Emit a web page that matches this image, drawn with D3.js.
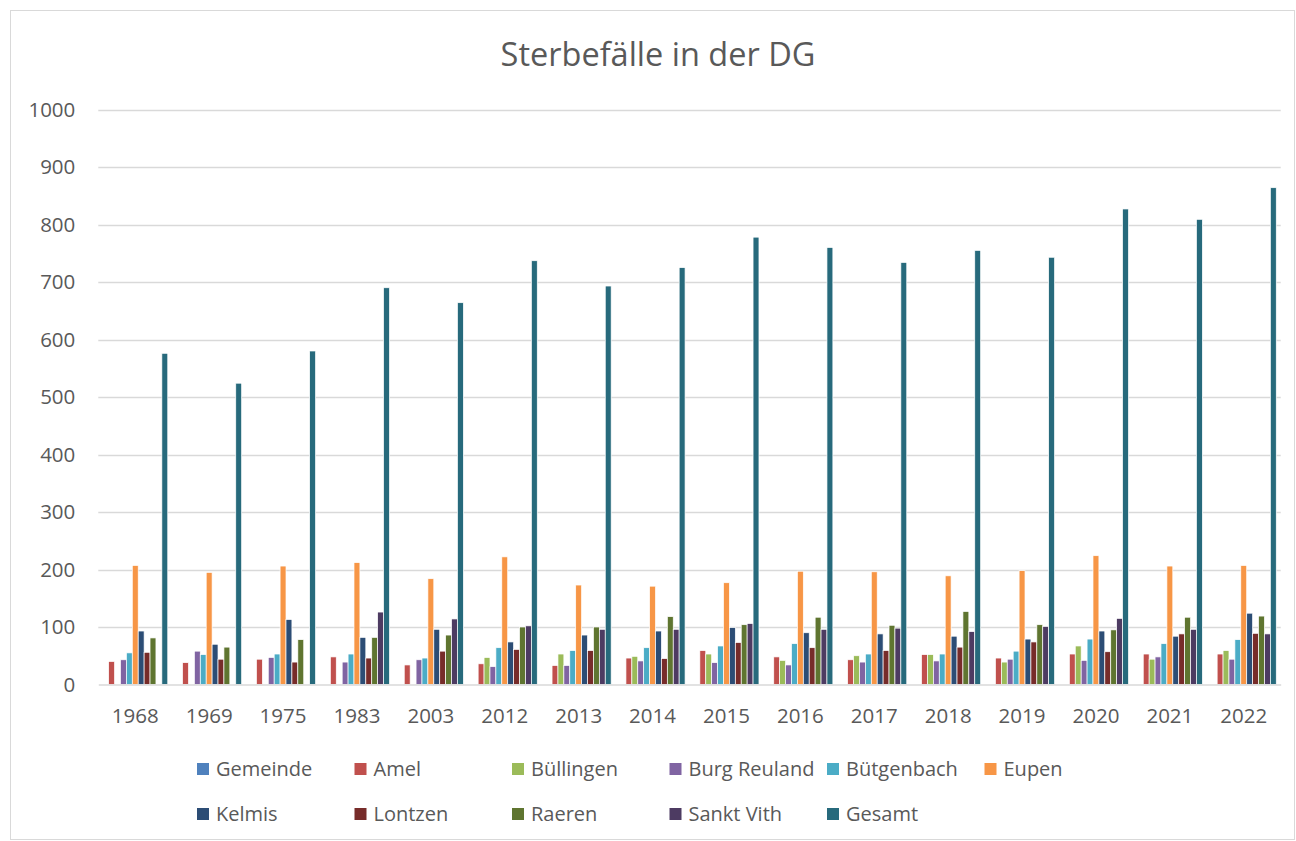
<!DOCTYPE html>
<html>
<head>
<meta charset="utf-8">
<script src="https://cdn.jsdelivr.net/npm/d3@7"></script>
<style>
  html, body { margin: 0; padding: 0; background: #fff; }
  svg { display: block; font-family: "Open Sans", "Noto Sans", sans-serif; }
</style>
</head>
<body>
<svg id="chart" width="1296" height="841"></svg>
<script>
const title = "Sterbefälle in der DG";
const years = ["1968","1969","1975","1983","2003","2012","2013","2014","2015","2016","2017","2018","2019","2020","2021","2022"];
const seriesNames = ["Gemeinde","Amel","Büllingen","Burg Reuland","Bütgenbach","Eupen","Kelmis","Lontzen","Raeren","Sankt Vith","Gesamt"];
const seriesColors = ["#4F81BD","#C0504D","#9BBB59","#8064A2","#4BACC6","#F79646","#2C4D75","#772C2A","#5F7530","#4D3B62","#276A7C"];
const yTicks = [0,100,200,300,400,500,600,700,800,900,1000];

const gemeinde    = [null,null,null,null,null,null,null,null,null,null,null,null,null,null,null,null];
const amel        = [40, 38, 44, 48, 34, 36, 33, 46, 59, 48, 43, 52, 46, 53, 53, 53];
const buellingen  = [null,null,null,null,null,47, 53, 49, 53, 42, 50, 52, 39, 67, 44, 59];
const burgReuland = [43, 58, 47, 39, 43, 31, 33, 41, 38, 34, 39, 41, 44, 42, 48, 44];
const buetgenbach = [55, 52, 53, 53, 46, 64, 59, 64, 67, 71, 53, 53, 58, 79, 71, 78];
const eupen       = [207,195,206,212,184,222,173,171,177,197,196,189,198,224,206,207];
const kelmis      = [93, 70, 113, 82, 96, 74, 86, 93, 99, 90, 88, 84, 79, 93, 84, 124];
const lontzen     = [56, 44, 39, 46, 58, 61, 59, 45, 73, 64, 59, 65, 74, 57, 88, 89];
const raeren      = [81, 65, 78, 82, 86, 100,100,118,104,117,103,127,104,95, 117,119];
const sanktVith   = [null,null,null,126,114,102,96, 96, 106,96, 98, 92, 101,115,96, 88];
const gesamt      = [576,524,580,690,664,737,693,725,778,760,734,755,743,827,809,864];

const seriesValues = [gemeinde, amel, buellingen, burgReuland, buetgenbach, eupen, kelmis, lontzen, raeren, sanktVith, gesamt];

const svg = d3.select("#chart");
const W = 1296, H = 841;
const plot = { left: 98.3, right: 1280.7, top: 109.5, bottom: 684.5 };
const textColor = "#595959";
const gridColor = "#d9d9d9";

// outer border
svg.append("rect").attr("x", 10.5).attr("y", 10.5).attr("width", W - 12).attr("height", H - 12)
  .attr("fill", "#fff").attr("stroke", gridColor).attr("stroke-width", 1);

// title
svg.append("text").attr("x", 658).attr("y", 66).attr("text-anchor", "middle")
  .attr("font-size", 32.5).attr("fill", textColor).text(title);

const y = d3.scaleLinear().domain([0, 1000]).range([plot.bottom, plot.top]);
const x0 = d3.scaleBand().domain(years).range([plot.left, plot.right]).paddingInner(0.12).paddingOuter(0.06);
const x1 = d3.scaleBand().domain(seriesNames).range([0, x0.bandwidth()]).padding(0);

// gridlines
svg.append("g").selectAll("line").data(yTicks.filter(t => t > 0)).join("line")
  .attr("x1", plot.left).attr("x2", plot.right)
  .attr("y1", d => Math.round(y(d)) + 0.5).attr("y2", d => Math.round(y(d)) + 0.5)
  .attr("stroke", gridColor).attr("stroke-width", 1.3);

// y axis labels
const yAxis = d3.axisLeft(y).tickValues(yTicks).tickFormat(d3.format("d")).tickSize(0).tickPadding(0);
const yg = svg.append("g").attr("transform", `translate(${plot.left - 23},0)`).call(yAxis);
yg.select(".domain").remove();
yg.selectAll("text").attr("font-size", 20.5).attr("fill", textColor).attr("font-family", "Open Sans");

// bars
const groups = svg.append("g").selectAll("g").data(years).join("g")
  .attr("transform", d => `translate(${x0(d)},0)`);
groups.selectAll("rect")
  .data((yr, i) => seriesNames.map((s, k) => ({ s, k, v: seriesValues[k][i] })).filter(d => d.v != null))
  .join("rect")
  .attr("x", d => x1(d.s))
  .attr("width", x1.bandwidth())
  .attr("y", d => y(d.v))
  .attr("height", d => y(0) - y(d.v))
  .attr("fill", d => seriesColors[d.k])
  .attr("stroke", "#fff").attr("stroke-width", 0.7);

// x axis
const xAxis = d3.axisBottom(d3.scaleBand().domain(years).range([plot.left, plot.right])).tickSize(0).tickPadding(0);
const xg = svg.append("g").attr("transform", `translate(0,${plot.bottom})`).call(xAxis);
xg.select(".domain").attr("stroke", gridColor).attr("stroke-width", 1.5);
xg.selectAll("text").attr("font-size", 20.5).attr("fill", textColor).attr("font-family", "Open Sans")
  .attr("y", 38).attr("dy", 0);

// legend
const legendCols = 6, colStep = 157.5, legX = 197, rowY = [769, 814];
const leg = svg.append("g").selectAll("g").data(seriesNames).join("g")
  .attr("transform", (d, i) => `translate(${legX + (i % legendCols) * colStep},${rowY[Math.floor(i / legendCols)]})`);
leg.append("rect").attr("x", 0).attr("y", -6).attr("width", 12).attr("height", 12)
  .attr("fill", (d, i) => seriesColors[i]);
leg.append("text").attr("x", 19).attr("y", 0).attr("dy", "0.35em")
  .attr("font-size", 20).attr("fill", textColor).text(d => d);
</script>
</body>
</html>
